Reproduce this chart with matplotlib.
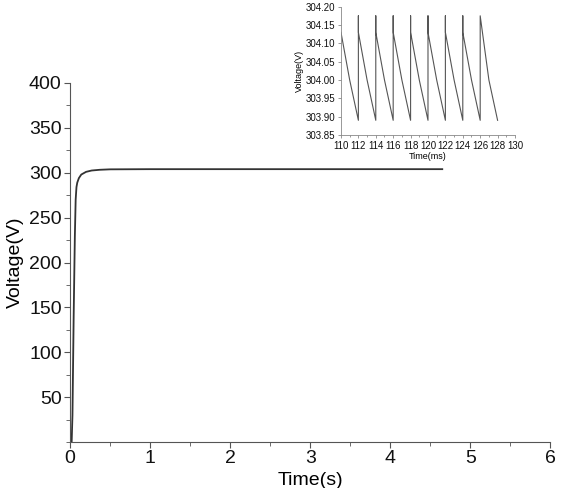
import matplotlib
matplotlib.use("Agg")
from matplotlib import pyplot as plt
from matplotlib.ticker import MultipleLocator, FormatStrFormatter

# main trace: DC-link voltage during start-up (s, V)
main_t = [0.0, 0.02, 0.03, 0.045, 0.06, 0.07, 0.08, 0.09, 0.11, 0.14, 0.20,
          0.27, 0.37, 0.5, 1.0, 2.0, 3.0, 4.0, 4.65]
main_v = [0, 0, 30, 140, 230, 270, 284, 289, 294, 298, 301,
          302.5, 303.3, 303.8, 304.0, 304.0, 304.0, 304.0, 304.0]

# zoomed ripple (ms, V)
inset_t = [110, 111, 112,
           112, 112, 113, 114,
           114, 114, 115, 116,
           116, 116, 117, 118,
           118, 118, 119, 120,
           120, 120, 121, 122,
           122, 122, 123, 124,
           124, 124, 125, 126,
           126, 127, 128]
inset_v = [304.13, 304.00, 303.89,
           304.175, 304.13, 304.00, 303.89,
           304.175, 304.13, 304.00, 303.89,
           304.175, 304.13, 304.00, 303.89,
           304.175, 304.13, 304.00, 303.89,
           304.175, 304.13, 304.00, 303.89,
           304.175, 304.13, 304.00, 303.89,
           304.175, 304.13, 304.00, 303.89,
           304.175, 304.00, 303.89]

plt.rcParams['font.family'] = ['Liberation Sans', 'DejaVu Sans']

fig = plt.figure(figsize=(5.65, 4.88), dpi=100)
ax = fig.add_axes([0.124, 0.094, 0.850, 0.736])
ax.plot(main_t, main_v, color='#333333', lw=1.3)
ax.set_xlim(0, 6)
ax.set_ylim(0, 400)
ax.set_xticks([0, 1, 2, 3, 4, 5, 6])
ax.set_yticks([50, 100, 150, 200, 250, 300, 350, 400])
ax.xaxis.set_minor_locator(MultipleLocator(0.5))
ax.yaxis.set_minor_locator(MultipleLocator(25))
for s in ['top', 'right']:
    ax.spines[s].set_visible(False)
for s in ['left', 'bottom']:
    ax.spines[s].set_color('#555555')
ax.tick_params(which='both', direction='out', colors='#555555', labelcolor='#111111')
ax.tick_params(which='major', length=4, labelsize=14, pad=2)
ax.tick_params(which='minor', length=3)
ax.set_xlabel('Time(s)', fontsize=14, labelpad=3)
ax.set_ylabel('Voltage(V)', fontsize=14, labelpad=4)

ins = fig.add_axes([0.6035, 0.7234, 0.308, 0.263])
ins.plot(inset_t, inset_v, color='#555555', lw=0.8)
ins.set_xlim(110, 130)
ins.set_ylim(303.85, 304.20)
ins.xaxis.set_major_locator(MultipleLocator(2))
ins.xaxis.set_minor_locator(MultipleLocator(1))
ins.yaxis.set_major_locator(MultipleLocator(0.05))
ins.yaxis.set_major_formatter(FormatStrFormatter('%.2f'))
for s in ['top', 'right']:
    ins.spines[s].set_visible(False)
for s in ['left', 'bottom']:
    ins.spines[s].set_color('#888888')
    ins.spines[s].set_linewidth(0.6)
ins.tick_params(which='both', direction='out', colors='#888888', labelcolor='#111111', width=0.6)
ins.tick_params(which='major', length=2.5, labelsize=7, pad=1.5)
ins.tick_params(which='minor', length=1.5)
ins.set_xlabel('Time(ms)', fontsize=6.5, labelpad=1)
ins.set_ylabel('Voltage(V)', fontsize=6.5, labelpad=1)

fig.savefig('out.png', dpi=100)
